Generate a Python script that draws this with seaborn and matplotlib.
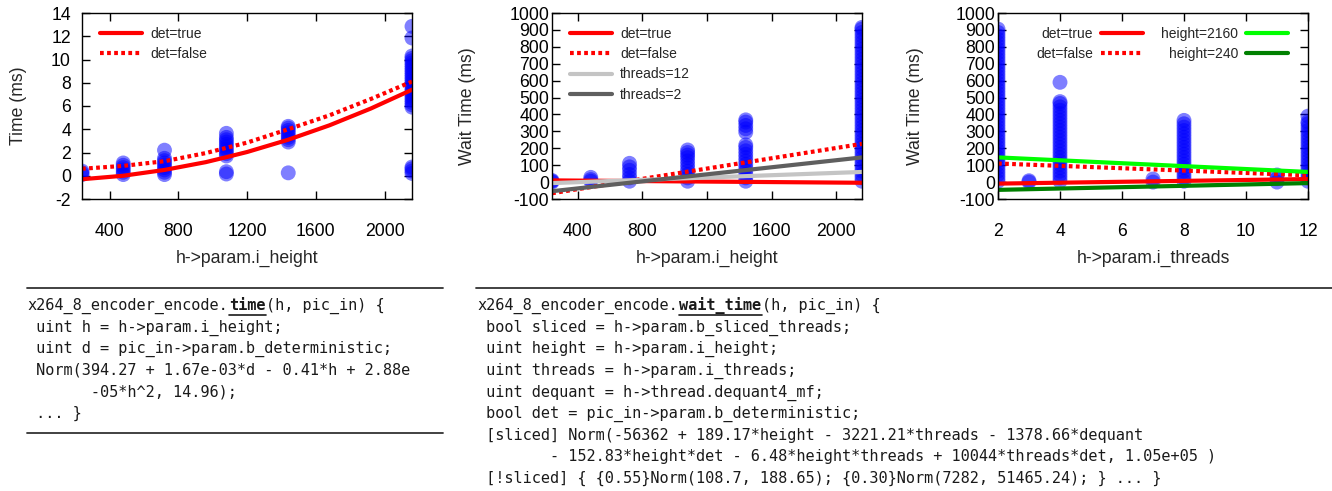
import matplotlib
matplotlib.use("Agg")
import matplotlib.pyplot as plt
from matplotlib.lines import Line2D
import pandas as pd
import seaborn as sns

W, H = 1332, 491

# left panel: encode time per frame height
time_heights = [240, 480, 720, 1080, 1440, 2160]
time_samples = [
    [0.1, 0.25, 0.4],
    [0.1, 0.3, 0.5, 0.7, 0.9, 1.1],
    [0.1, 0.3, 0.5, 0.7, 0.9, 1.1, 1.3, 1.5, 2.2],
    [0.15, 0.35, 1.7, 1.9, 2.1, 2.3, 2.5, 2.7, 2.9, 3.1, 3.3, 3.65],
    [0.25, 2.9, 3.1, 3.3, 3.5, 3.7, 3.9, 4.1, 4.25],
    [0.2, 0.4, 0.6, 0.75, 5.9, 6.1, 6.3, 6.5, 6.7, 6.9, 7.1, 7.3, 7.5, 7.7,
     7.9, 8.1, 8.3, 8.5, 8.7, 8.9, 9.1, 9.3, 9.5, 9.7, 9.9, 10.1, 10.3,
     11.85, 12.85],
]
fit_heights = [240, 480, 720, 960, 1080, 1200, 1440, 1680, 1920, 2160]
time_det_true = [-0.3, 0.0, 0.5, 1.17, 1.6, 2.04, 3.1, 4.34, 5.78, 7.4]
time_det_false = [0.6, 0.85, 1.25, 1.95, 2.4, 2.85, 4.0, 5.2, 6.6, 8.1]

# middle panel: wait time per frame height
wait_heights = [240, 480, 720, 1080, 1440, 2160]
wait_samples_h = [
    [0, 5, 10],
    [5, 15, 28],
    [5, 25, 45, 70, 90, 111],
    [5, 25, 45, 65, 85, 105, 125, 145, 160, 175, 190],
    [5, 25, 45, 65, 85, 105, 125, 145, 165, 185, 205, 220,
     295, 315, 335, 355, 368],
    [5, 25, 45, 65, 85, 105, 125, 145, 165, 185, 205, 225, 245, 265, 285,
     305, 325, 345, 365, 385, 405, 425, 445, 465, 485, 505, 525, 545, 565,
     585, 605, 625, 645, 665, 685, 705, 725, 745, 765, 785, 805, 825, 845,
     865, 885, 905, 915],
]
line_heights = [240, 2160]
wait_det_true = [10, -4]
wait_det_false = [-66, 226]
wait_threads12 = [-6, 60]
wait_threads2 = [-54, 146]

# right panel: wait time per thread count
wait_threads = [2, 3, 4, 7, 8, 11, 12]
wait_samples_t = [
    [5, 25, 45, 65, 85, 105, 125, 145, 165, 185, 205, 225, 245, 265, 285,
     305, 325, 345, 365, 385, 405, 425, 445, 465, 485, 505, 525, 545, 565,
     585, 605, 625, 645, 665, 685, 705, 725, 745, 765, 785, 805, 825, 845,
     865, 885, 905],
    [0, 8],
    [5, 25, 45, 65, 85, 105, 125, 145, 165, 185, 205, 225, 245, 265, 285,
     305, 325, 345, 365, 385, 405, 425, 445, 465, 476, 590],
    [0, 18],
    [5, 25, 45, 65, 85, 105, 125, 145, 165, 185, 205, 225, 245, 265, 285,
     305, 325, 345, 365],
    [0, 20, 42],
    [5, 25, 45, 65, 85, 105, 125, 145, 165, 185, 205, 225, 245, 265, 285,
     305, 325, 345, 357, 390],
]
line_threads = [2, 12]
thr_det_true = [-9, 18]
thr_det_false = [110, 40]
thr_height2160 = [146, 60]
thr_height240 = [-46, -6]

time_code = [
    " uint h = h->param.i_height;",
    " uint d = pic_in->param.b_deterministic;",
    " Norm(394.27 + 1.67e-03*d - 0.41*h + 2.88e",
    "       -05*h^2, 14.96);",
    " ... }",
]
wait_code = [
    " bool sliced = h->param.b_sliced_threads;",
    " uint height = h->param.i_height;",
    " uint threads = h->param.i_threads;",
    " uint dequant = h->thread.dequant4_mf;",
    " bool det = pic_in->param.b_deterministic;",
    " [sliced] Norm(-56362 + 189.17*height - 3221.21*threads - 1378.66*dequant",
    "        - 152.83*height*det - 6.48*height*threads + 10044*threads*det, 1.05e+05 )",
    " [!sliced] { {0.55}Norm(108.7, 188.65); {0.30}Norm(7282, 51465.24); } ... }",
]


def long_frame(xs, samples, xname, yname):
    rows = [(x, y) for x, ys in zip(xs, samples) for y in ys]
    return pd.DataFrame(rows, columns=[xname, yname])


sns.set_theme(style="ticks")
plt.rcParams["font.family"] = ["Liberation Sans", "DejaVu Sans"]
plt.rcParams["axes.edgecolor"] = "black"
plt.rcParams["axes.linewidth"] = 1.0
plt.rcParams["axes.unicode_minus"] = False

fig = plt.figure(figsize=(W / 100, H / 100), dpi=100)


def make_axes(left, right, top=13, bottom=199):
    return fig.add_axes([left / W, 1 - bottom / H, (right - left) / W, (bottom - top) / H])


ax1 = make_axes(82, 412)
ax2 = make_axes(552, 862)
ax3 = make_axes(998, 1308)

dots = (0, (0.9, 0.8))
pt_kw = dict(color="blue", alpha=0.5, s=115, edgecolor="none", legend=False)

# left
df1 = long_frame(time_heights, time_samples, "height", "time")
sns.scatterplot(data=df1, x="height", y="time", ax=ax1, **pt_kw)
sns.lineplot(x=fit_heights, y=time_det_true, ax=ax1, color="red", lw=3, label="det=true")
sns.lineplot(x=fit_heights, y=time_det_false, ax=ax1, color="red", lw=3, ls=dots, label="det=false")
ax1.set_xlim(240, 2160)
ax1.set_ylim(-2, 14)
ax1.set_xticks([400, 800, 1200, 1600, 2000])
ax1.set_yticks(range(-2, 15, 2))
ax1.set_ylabel("Time (ms)", va="center")
ax1.yaxis.set_label_coords((19 - 82) / 330, 0.5)

# middle
df2 = long_frame(wait_heights, wait_samples_h, "height", "wait")
sns.scatterplot(data=df2, x="height", y="wait", ax=ax2, **pt_kw)
sns.lineplot(x=line_heights, y=wait_det_true, ax=ax2, color="red", lw=3, label="det=true")
sns.lineplot(x=line_heights, y=wait_det_false, ax=ax2, color="red", lw=3, ls=dots, label="det=false")
sns.lineplot(x=line_heights, y=wait_threads12, ax=ax2, color="#c4c4c4", lw=3, label="threads=12")
sns.lineplot(x=line_heights, y=wait_threads2, ax=ax2, color="#5f5f5f", lw=3, label="threads=2")
ax2.set_xlim(240, 2160)
ax2.set_xticks([400, 800, 1200, 1600, 2000])

# right
df3 = long_frame(wait_threads, wait_samples_t, "threads", "wait")
sns.scatterplot(data=df3, x="threads", y="wait", ax=ax3, **pt_kw)
sns.lineplot(x=line_threads, y=thr_det_true, ax=ax3, color="red", lw=3, label="det=true")
sns.lineplot(x=line_threads, y=thr_det_false, ax=ax3, color="red", lw=3, ls=dots, label="det=false")
sns.lineplot(x=line_threads, y=thr_height2160, ax=ax3, color="#00ff00", lw=3, label="height=2160")
sns.lineplot(x=line_threads, y=thr_height240, ax=ax3, color="#008000", lw=3, label="height=240")
ax3.set_xlim(2, 12)
ax3.set_xticks(range(2, 13, 2))

for ax in (ax2, ax3):
    ax.set_ylim(-100, 1000)
    ax.set_yticks(range(-100, 1001, 100))
    ax.set_ylabel("Wait Time (ms)", va="center")
ax2.yaxis.set_label_coords((468 - 552) / 310, 0.5)
ax3.yaxis.set_label_coords((915 - 998) / 310, 0.5)

ax1.set_xlabel("h->param.i_height", va="center")
ax2.set_xlabel("h->param.i_height", va="center")
ax3.set_xlabel("h->param.i_threads", va="center")

for ax in (ax1, ax2, ax3):
    ax.xaxis.set_label_coords(0.5, -(258 - 199) / 186)
    ax.xaxis.label.set_size(12.7)
    ax.yaxis.label.set_size(12.7)
    ax.tick_params(direction="in", top=True, right=True, length=6, width=1,
                   labelsize=12.7, colors="black")
    ax.tick_params(axis="x", pad=17)
    ax.tick_params(axis="y", pad=2)
ax1.tick_params(axis="y", pad=8)

leg_kw = dict(frameon=False, fontsize=10, handlelength=3.0, handletextpad=0.6,
              labelspacing=0.45, borderpad=0, borderaxespad=0)
ax1.legend(loc="upper left", bbox_to_anchor=(18 / 330, 1 - 14 / 186), **leg_kw)
ax2.legend(loc="upper left", bbox_to_anchor=(18 / 310, 1 - 14 / 186), **leg_kw)
ax3.legend(loc="upper right", bbox_to_anchor=(1 - 20 / 310, 1 - 14 / 186), ncol=2,
           markerfirst=False, columnspacing=1.3, **leg_kw)

# code listings below the plots
code_size = 11
char_w = 0.602 * code_size * 100 / 72
line_gap = 21.6
first_y = 305
mono = dict(family="DejaVu Sans Mono", size=code_size, color="#1a1a1a", va="baseline", ha="left")


def code_block(x0, word, rest, lines):
    prefix = "x264_8_encoder_encode."
    base = first_y + 5
    fig.text(x0 / W, 1 - base / H, prefix, **mono)
    wx = x0 + len(prefix) * char_w
    fig.text(wx / W, 1 - base / H, word, weight="bold", **mono)
    fig.add_artist(Line2D([wx / W, (wx + len(word) * char_w) / W], [1 - (base + 5) / H] * 2,
                          color="#1a1a1a", lw=1.2))
    fig.text((wx + len(word) * char_w) / W, 1 - base / H, rest, **mono)
    for i, s in enumerate(lines):
        fig.text(x0 / W, 1 - (base + (i + 1) * line_gap) / H, s, **mono)


def rule(x0, x1, y):
    fig.add_artist(Line2D([x0 / W, x1 / W], [1 - y / H] * 2, color="#333333", lw=1.3))


rule(27, 443, 288)
rule(27, 443, 433)
rule(476, 1332, 288)
code_block(27, "time", "(h, pic_in) {", time_code)
code_block(477, "wait_time", "(h, pic_in) {", wait_code)

fig.savefig("out.png", dpi=100)
